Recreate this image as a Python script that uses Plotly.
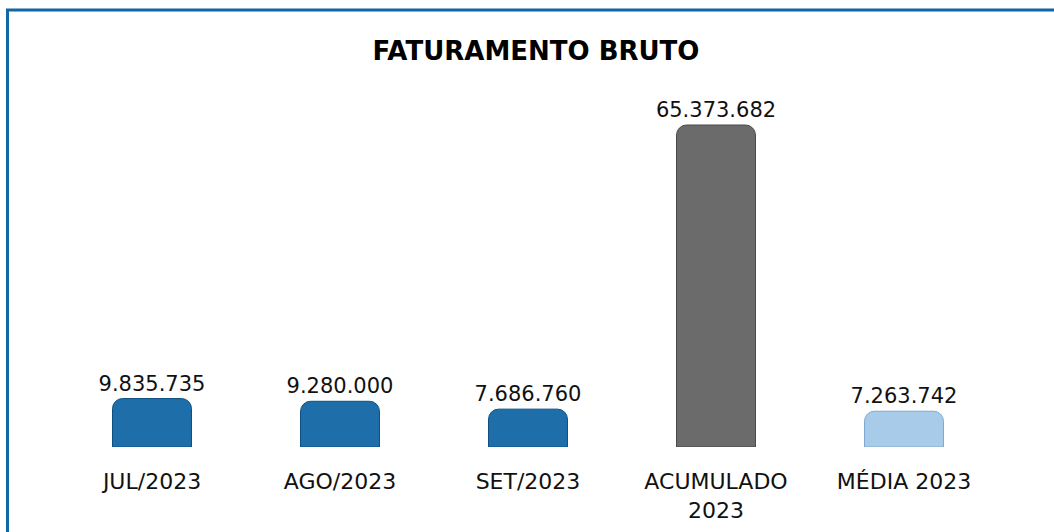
import plotly.graph_objects as go

categories = ["JUL/2023", "AGO/2023", "SET/2023", "ACUMULADO<br>2023", "MÉDIA 2023"]
values = [9835735, 9280000, 7686760, 65373682, 7263742]
bar_colors = ["#1E6EAA", "#1E6EAA", "#1E6EAA", "#6B6B6B", "#A9CBEA"]
line_colors = ["#0D4F82", "#0D4F82", "#0D4F82", "#4A4A4A", "#7FA8CF"]
title_text = "<b>FATURAMENTO BRUTO</b>"

W, H = 1054, 532
ML, MR, MT, MB = 58, 56, 100, 85
pw = W - ML - MR
ph = H - MT - MB

def px_x(p):
    return (p - ML) / pw

def px_y(p):
    return (H - MB - p) / ph

FONT = "DejaVu Sans"

fig = go.Figure(go.Bar(
    x=categories,
    y=values,
    width=0.42,
    marker=dict(color=bar_colors, line=dict(color=line_colors, width=1), cornerradius=10),
    texttemplate="%{y:,.0f}",
    textposition="outside",
    constraintext="none",
    textfont=dict(family=FONT, size=21, color="#111111"),
    cliponaxis=False,
    hoverinfo="skip",
))

border_color = "#0F67A5"
fig.add_shape(type="line", xref="paper", yref="paper",
              x0=px_x(6), x1=px_x(W + 5), y0=px_y(10), y1=px_y(10),
              line=dict(color=border_color, width=3))
fig.add_shape(type="line", xref="paper", yref="paper",
              x0=px_x(7.5), x1=px_x(7.5), y0=px_y(9), y1=px_y(H + 5),
              line=dict(color=border_color, width=3))

fig.update_layout(
    width=W, height=H,
    margin=dict(l=ML, r=MR, t=MT, b=MB, autoexpand=False),
    paper_bgcolor="white", plot_bgcolor="white",
    separators=",.",
    showlegend=False,
    title=dict(text=title_text, x=px_x(536), xanchor="center", xref="paper",
               y=1 - 51 / H, yanchor="middle",
               font=dict(family=FONT, size=26, color="#000000")),
    xaxis=dict(showgrid=False, showline=False, zeroline=False, ticks="",
               automargin=False,
               tickfont=dict(family=FONT, size=22, color="#111111"),
               ticklabelstandoff=19),
    yaxis=dict(visible=False, automargin=False,
               range=[0, (H - MB - MT) / 322 * 65373682]),
)

fig.write_html("out.html")
